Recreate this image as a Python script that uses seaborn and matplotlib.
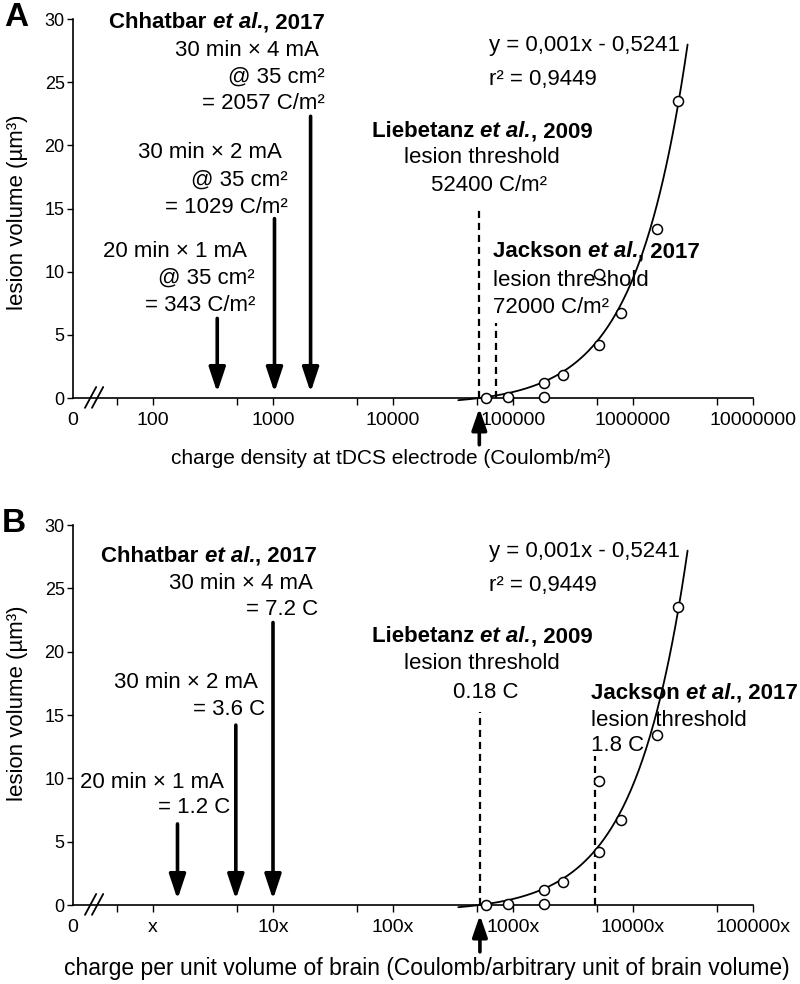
import numpy as np
import matplotlib
matplotlib.use("Agg")
import matplotlib.pyplot as plt
import seaborn as sns
from matplotlib.ticker import NullFormatter
from matplotlib.transforms import ScaledTranslation

# ---------------- data ----------------
lesion_volume = [0.0, 0.1, 0.1, 1.2, 1.8, 4.2, 9.8, 6.7, 13.4, 23.5]
density_A = [60000, 90000, 180000, 180000, 260000, 520000, 520000, 790000, 1580000, 2370000]
charge_B = [600, 900, 1800, 1800, 2600, 5200, 5200, 7900, 15800, 23700]

# fit shown on the figure: y = 0,001x - 0,5241 (x in panel B units)
fit_slope = 0.001
fit_intercept = -0.5241
fit_from_B, fit_to_B = 350, 28500
A_per_B = 100  # panel A axis sits two decades to the right of panel B

chhatbar_A = [343, 1029, 2057]
chhatbar_B = [1.6, 4.9, 10]
chhatbar_top_A = [6.3, 14.2, 22.3]
chhatbar_top_B = [6.4, 14.2, 22.3]

thr_A = [52400, 72000]       # Liebetanz, Jackson
thr_B = [530, 4800]
thr_top_A = [15.1, 5.9]
thr_top_B = [15.2, 11.8]

xticks_A = [100, 1000, 10000, 100000, 1000000, 10000000]
xticklabels_A = ["100", "1000", "10000", "100000", "1000000", "10000000"]
xticks_B = [1, 10, 100, 1000, 10000, 100000]
xticklabels_B = ["x", "10x", "100x", "1000x", "10000x", "100000x"]
yticks = [0, 5, 10, 15, 20, 25, 30]

# ---------------- style ----------------
sns.set_style("ticks", {"axes.edgecolor": "black", "xtick.color": "black",
                        "ytick.color": "black", "text.color": "black",
                        "axes.labelcolor": "black"})
plt.rcParams['font.family'] = ['Liberation Sans', 'DejaVu Sans']

FS = 16
chains = []


def ref(ax, x, y, author, year, ha):
    # bold author, bold-italic "et al.", bold year, chained side by side
    t0 = ax.text(x, y, author + " ", fontsize=FS, fontweight="bold", va="center", ha="left")
    t1 = ax.annotate("et al.", xy=(1, 0), xycoords=t0, va="bottom", ha="left",
                     fontsize=FS, fontweight="bold", fontstyle="italic")
    t2 = ax.annotate(", " + year, xy=(1, 0), xycoords=t1, va="bottom", ha="left",
                     fontsize=FS, fontweight="bold")
    chains.append((ax, t0, t2, ha))


def txt(ax, x, y, s, ha):
    ax.text(x, y, s, ha=ha, va="center", fontsize=FS, zorder=3)


def down_arrow(ax, x, top):
    ax.annotate("", xy=(x, 0.45), xytext=(x, top),
                arrowprops=dict(arrowstyle="-|>,head_length=1.5,head_width=0.5",
                                lw=2.6, color="black", shrinkA=0, shrinkB=0,
                                mutation_scale=10))


def base_panel(ax, x_pts, xfit, xlim, xticks, xticklabels, minor, thr, thr_top):
    yfit = fit_slope * np.geomspace(fit_from_B, fit_to_B, 300) + fit_intercept
    sns.lineplot(x=xfit, y=yfit, ax=ax, color="black", lw=1.3, clip_on=False, zorder=4)
    sns.scatterplot(x=x_pts, y=lesion_volume, ax=ax, marker="o", s=52,
                    facecolor="white", edgecolor="black", linewidth=1.1,
                    clip_on=False, zorder=5)
    ax.set_xscale("log")
    ax.set_xlim(*xlim)
    ax.set_ylim(0, 30)
    ax.set_yticks(yticks)
    ax.set_xticks([xlim[0]] + xticks, labels=["0"] + xticklabels)
    ax.set_xticks(minor, minor=True)
    ax.xaxis.set_minor_formatter(NullFormatter())
    ax.tick_params(axis="x", which="both", length=5, width=1, labelsize=14, pad=5)
    ax.tick_params(axis="y", length=4, width=1, labelsize=13, pad=2)
    ax.xaxis.get_major_ticks()[0].tick1line.set_visible(False)
    sns.despine(ax=ax)
    for s in ["left", "bottom"]:
        ax.spines[s].set_linewidth(1.2)

    # threshold lines
    for xv, top in zip(thr, thr_top):
        ax.plot([xv, xv], [0, top], color="black", lw=1.6, ls=(0, (3.2, 2.2)), zorder=2)
    # arrow under the axis at the Liebetanz threshold
    ax.annotate("", xy=(thr[0], -0.8), xytext=(thr[0], -3.7),
                arrowprops=dict(arrowstyle="-|>,head_length=1.3,head_width=0.45",
                                lw=2.6, color="black", shrinkA=0, shrinkB=0,
                                mutation_scale=10),
                annotation_clip=False)
    # axis break marks
    for x0 in (0.0176, 0.0279):
        ax.plot([x0, x0 + 0.0165], [-0.026, 0.029], transform=ax.transAxes,
                color="black", lw=1.3, clip_on=False)
    ax.set_ylabel("lesion volume (µm³)", fontsize=FS)
    ax.yaxis.label.set_va("center")
    ax.yaxis.label.set_ha("center")


fig = plt.figure(figsize=(8, 9.84), dpi=100)
axA = fig.add_axes([73 / 800, 1 - 398 / 984, 680 / 800, 379 / 984])
axB = fig.add_axes([73 / 800, 1 - 905 / 984, 680 / 800, 380 / 984])

# ---------------- panel A ----------------
base_panel(axA, density_A, np.geomspace(fit_from_B, fit_to_B, 300) * A_per_B,
           (10 ** (2 - 80 / 120), 1e7), xticks_A, xticklabels_A,
           [50, 500, 5000, 50000, 500000, 5000000], thr_A, thr_top_A)
for xv, top in zip(chhatbar_A, chhatbar_top_A):
    down_arrow(axA, xv, top)

ref(axA, 2712, 29.7, "Chhatbar", "2017", "right")
for (x, y), s in zip([(2415, 27.5), (2712, 25.4), (2712, 23.35)],
                     ["30 min × 4 mA", "@ 35 cm²", "= 2057 C/m²"]):
    txt(axA, x, y, s, "right")
for (x, y), s in zip([(1189, 19.4), (1334, 17.26), (1334, 15.1)],
                     ["30 min × 2 mA", "@ 35 cm²", "= 1029 C/m²"]):
    txt(axA, x, y, s, "right")
for (x, y), s in zip([(607, 11.56), (708, 9.5), (708, 7.36)],
                     ["20 min × 1 mA", "@ 35 cm²", "= 343 C/m²"]):
    txt(axA, x, y, s, "right")
ref(axA, 55200, 21.06, "Liebetanz", "2009", "center")
txt(axA, 55200, 19.0, "lesion threshold", "center")
txt(axA, 63100, 16.86, "52400 C/m²", "center")
ref(axA, 68100, 11.56, "Jackson", "2017", "left")
txt(axA, 68100, 9.34, "lesion threshold", "left")
txt(axA, 68100, 7.2, "72000 C/m²", "left")
txt(axA, 63100, 27.9, "y = 0,001x - 0,5241", "left")
txt(axA, 63100, 25.25, "r² = 0,9449", "left")
axA.set_xlabel("charge density at tDCS electrode (Coulomb/m²)", fontsize=15)
axA.xaxis.set_label_coords((391 - 73) / 680, (398 - 458) / 379)
axA.xaxis.label.set_va("center")
axA.yaxis.set_label_coords(-0.081, 0.49)

# ---------------- panel B ----------------
base_panel(axB, charge_B, np.geomspace(fit_from_B, fit_to_B, 300),
           (10 ** (-80 / 120), 1e5), xticks_B, xticklabels_B,
           [0.5, 5, 50, 500, 5000, 50000], thr_B, thr_top_B)
for xv, top in zip(chhatbar_B, chhatbar_top_B):
    down_arrow(axB, xv, top)

ref(axB, 23.3, 27.55, "Chhatbar", "2017", "right")
txt(axB, 21.5, 25.4, "30 min × 4 mA", "right")
txt(axB, 23.7, 23.3, "= 7.2 C", "right")
txt(axB, 7.5, 17.6, "30 min × 2 mA", "right")
txt(axB, 8.58, 15.47, "= 3.6 C", "right")
txt(axB, 3.9, 9.7, "20 min × 1 mA", "right")
txt(axB, 4.38, 7.66, "= 1.2 C", "right")
ref(axB, 552, 21.16, "Liebetanz", "2009", "center")
txt(axB, 552, 19.1, "lesion threshold", "center")
txt(axB, 596, 16.8, "0.18 C", "center")
ref(axB, 4470, 16.7, "Jackson", "2017", "left")
txt(axB, 4470, 14.6, "lesion threshold", "left")
txt(axB, 4470, 12.6, "1.8 C", "left")
txt(axB, 631, 27.87, "y = 0,001x - 0,5241", "left")
txt(axB, 631, 25.26, "r² = 0,9449", "left")
axB.set_xlabel("charge per unit volume of brain (Coulomb/arbitrary unit of brain volume)",
               fontsize=16.5)
axB.xaxis.set_label_coords((427 - 73) / 680, -0.166)
axB.xaxis.label.set_va("center")
axB.yaxis.set_label_coords(-0.081, 0.53)

fig.text(16 / 800, 1 - 17 / 984, "A", fontsize=24, fontweight="bold", ha="center", va="center")
fig.text(14 / 800, 1 - 523 / 984, "B", fontsize=24, fontweight="bold", ha="center", va="center")

# shift the chained reference titles to their alignment
fig.canvas.draw()
r = fig.canvas.get_renderer()
for ax, t0, t2, ha in chains:
    w = t2.get_window_extent(r).x1 - t0.get_window_extent(r).x0
    shift = {"left": 0, "center": -w / 2, "right": -w}[ha]
    t0.set_transform(ax.transData + ScaledTranslation(shift / fig.dpi, 0, fig.dpi_scale_trans))

fig.savefig("out.png", dpi=100)
